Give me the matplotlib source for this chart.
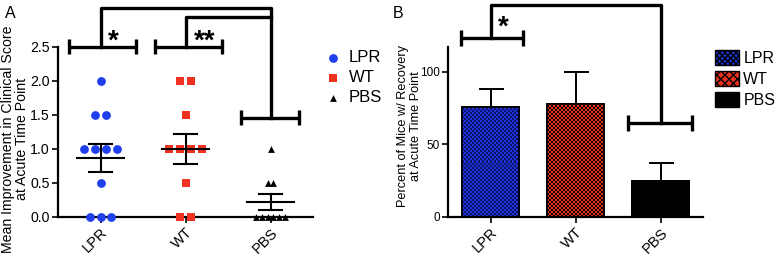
import numpy as np
import matplotlib
matplotlib.use("Agg")
import matplotlib.pyplot as plt
from matplotlib.colors import ListedColormap
from matplotlib.patches import Patch

plt.rcParams['font.family'] = ['Liberation Sans', 'DejaVu Sans']

# ---------------- data ----------------
groups = ["LPR", "WT", "PBS"]
lpr_scores = [2.0, 1.5, 1.5, 1.0, 1.0, 1.0, 1.0, 0.5, 0.0, 0.0, 0.0]
wt_scores = [2.0, 2.0, 1.5, 1.0, 1.0, 1.0, 1.0, 0.5, 0.0, 0.0]
pbs_scores = [1.0, 0.5, 0.5, 0.0, 0.0, 0.0, 0.0, 0.0, 0.0]
recovery_pct = [76, 78, 25]
recovery_err = [12, 22, 12]
a_yticks = [0.0, 0.5, 1.0, 1.5, 2.0, 2.5]
b_yticks = [0, 50, 100]

colors = ["#2040ee", "#f03222", "black"]
markers = ["o", "s", "^"]

fig = plt.figure(figsize=(7.8, 2.58), dpi=100)
axA = fig.add_axes([0.0744, 0.159, 0.3270, 0.659])
axB = fig.add_axes([0.5744, 0.159, 0.3270, 0.659])

LW = 1.6
for ax in (axA, axB):
    for s in ("top", "right"):
        ax.spines[s].set_visible(False)
    for s in ("left", "bottom"):
        ax.spines[s].set_linewidth(LW)
    ax.tick_params(direction="out", length=4, width=1.2, labelsize=10.5, pad=2)
    ax.set_xlim(-0.5, 2.5)
    ax.set_xticks(range(3))
    ax.set_xticklabels(groups, rotation=45, ha="right", rotation_mode="anchor")
axA.tick_params(axis="y", labelsize=10.2)
axB.tick_params(axis="y", labelsize=8.5)

# ---------------- Panel A ----------------
def swarm_offsets(vals, spacing):
    vals = np.asarray(vals)
    offs = np.zeros(len(vals))
    for v in np.unique(vals):
        idx = np.where(vals == v)[0]
        k = len(idx)
        offs[idx] = (np.arange(k) - (k - 1) / 2) * spacing
    return offs

all_scores = [lpr_scores, wt_scores, pbs_scores]
spacings = [0.128, 0.128, 0.068]
sizes = [40, 34, 24]
for i, (vals, c, m) in enumerate(zip(all_scores, colors, markers)):
    offs = swarm_offsets(vals, spacings[i])
    axA.scatter(i + offs, vals, s=sizes[i], marker=m, color=c, zorder=3,
                linewidths=0, clip_on=False, label=groups[i])
    v = np.asarray(vals)
    mean = v.mean()
    sem = v.std(ddof=1) / np.sqrt(len(v))
    axA.plot([i - 0.28, i + 0.28], [mean, mean], color="black", lw=1.5, zorder=4)
    axA.plot([i, i], [mean - sem, mean + sem], color="black", lw=1.5, zorder=4)
    for yy in (mean - sem, mean + sem):
        axA.plot([i - 0.14, i + 0.14], [yy, yy], color="black", lw=1.5, zorder=4)

axA.set_ylim(0, 2.5)
axA.set_yticks(a_yticks)
axA.set_yticklabels([f"{t:.1f}" for t in a_yticks])
axA.set_ylabel("Mean Improvement in Clinical Score\nat Acute Time Point", fontsize=10.2,
               linespacing=1.0)
axA.yaxis.set_label_coords(-0.112, 0.459)

BW = 2.4
def bracket(ax, x0, x1, y, h):
    ax.plot([x0, x1], [y, y], color="black", lw=BW, clip_on=False, solid_capstyle="butt")
    for xx in (x0, x1):
        ax.plot([xx, xx], [y - h, y + h], color="black", lw=BW, clip_on=False, solid_capstyle="butt")

hA = 0.11
bracket(axA, -0.37, 0.42, 2.5, hA)
bracket(axA, 0.64, 1.43, 2.5, hA)
bracket(axA, 1.65, 2.33, 1.46, hA)
axA.plot([0, 0, 2, 2], [2.5, 3.07, 3.07, 1.46], color="black", lw=BW, clip_on=False)
axA.plot([1, 1, 2], [2.5, 2.94, 2.94], color="black", lw=BW, clip_on=False)
axA.text(0.15, 2.58, "*", fontsize=20, fontweight="bold", ha="center", va="center")
axA.text(1.22, 2.58, "**", fontsize=20, fontweight="bold", ha="center", va="center")

axA.legend(loc="upper left", bbox_to_anchor=(1.0, 1.02), frameon=False,
           fontsize=12, handletextpad=0.15, labelspacing=0.3, borderaxespad=0,
           handlelength=1.6)

fig.text(0.006, 0.975, "A", fontsize=11.5, va="top", ha="left")
fig.text(0.503, 0.975, "B", fontsize=11.5, va="top", ha="left")

# ---------------- Panel B ----------------
axB.set_ylim(0, 117)
axB.set_yticks(b_yticks)
axB.set_ylabel("Percent of Mice w/ Recovery\nat Acute Time Point", fontsize=9.2,
               linespacing=1.05)
axB.yaxis.set_label_coords(-0.104, 0.535)

facecols = ["#1c33d6", "#e8301c", "black"]
checkcols = ["#0c1470", "#150505", "black"]
bars = axB.bar(range(3), recovery_pct, width=0.68, color=facecols,
               edgecolor="black", linewidth=1.3, zorder=2)
axB.errorbar(range(3), recovery_pct, yerr=[[0, 0, 0], recovery_err], fmt="none",
             ecolor="black", elinewidth=1.4, capsize=9, capthick=1.4, zorder=1)

fig.canvas.draw()
trans = axB.transData
for b, fc, cc in zip(bars, facecols, checkcols):
    x0, y0 = b.get_x(), b.get_y()
    w, h = b.get_width(), b.get_height()
    p0 = trans.transform((x0, y0))
    p1 = trans.transform((x0 + w, y0 + h))
    nx = max(1, int(round((p1[0] - p0[0]) / 2.0)))
    ny = max(1, int(round((p1[1] - p0[1]) / 2.0)))
    grid = (np.add.outer(np.arange(ny), np.arange(nx)) % 2).astype(float)
    im = axB.imshow(grid, extent=(x0, x0 + w, y0, y0 + h), cmap=ListedColormap([fc, cc]),
                    interpolation="nearest", aspect="auto", zorder=2.5, origin="lower")
    im.set_clip_path(b)
    axB.bar([x0 + w / 2], [h], width=w, fill=False, edgecolor="black", linewidth=1.3, zorder=3)

axB.set_xlim(-0.5, 2.5)
axB.set_ylim(0, 117)

hB = 5.5
bracket(axB, -0.35, 0.38, 123, hB)
bracket(axB, 1.62, 2.37, 65, hB)
axB.plot([0, 0, 2, 2], [123, 146, 146, 65], color="black", lw=BW, clip_on=False)
axB.text(0.15, 130, "*", fontsize=20, fontweight="bold", ha="center", va="center")

handles = [Patch(facecolor=facecols[0], edgecolor="black", hatch="xxxxxx", linewidth=1.0),
           Patch(facecolor=facecols[1], edgecolor="black", hatch="xxxx", linewidth=1.0),
           Patch(facecolor="black", edgecolor="black", linewidth=1.0)]
axB.legend(handles, groups, loc="upper left", bbox_to_anchor=(1.02, 1.02), frameon=False,
           fontsize=11.5, handlelength=1.5, handleheight=1.1, handletextpad=0.3,
           labelspacing=0.3, borderaxespad=0)

fig.savefig("out.png", dpi=100)
